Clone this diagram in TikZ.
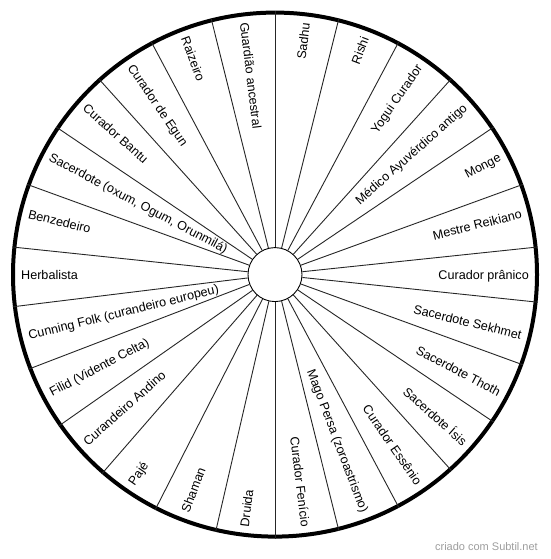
\documentclass[tikz,border=0pt]{standalone}
\usepackage{fontspec}
\setmainfont{Liberation Sans}
\begin{document}
\begin{tikzpicture}[x=1pt,y=1pt,
  spoke/.style={line width=0.9pt, draw=black!85},
  lbl/.style={font=\fontsize{12.6}{15}\selectfont, inner sep=0pt, text height=9pt, text depth=0pt},
  wmark/.style={font=\fontsize{11}{13}\selectfont, text=black!38, inner sep=0pt}
]
\useasboundingbox (0,0) rectangle (550,559);
\fill[white] (0,0) rectangle (550,559);
\coordinate (c) at (275,284.4);
\node[circle, draw, line width=4pt, minimum size=524pt, inner sep=0pt] (rim) at (c) {};
\node[circle, draw, line width=0.9pt, fill=white, minimum size=54pt, inner sep=0pt] (hub) at (c) {};
\foreach \i in {0,...,25} {
  \pgfmathsetmacro\a{90-\i*360/26}
  \draw[spoke] (hub.\a) -- (rim.\a);
}
\foreach \t [count=\i from 0] in {Sadhu, Rishi, Yogui Curador, Médico Ayuvérdico antigo, Monge, Mestre Reikiano, Curador prânico, Sacerdote Sekhmet, Sacerdote Thoth, Sacerdote Ísis, Curador Essênio, Mago Persa (zoroastrismo), Curador Fenício, Druida, Shaman, Pajé, Curandeiro Andino, Filid (Vidente Celta), Cunning Folk (curandeiro europeu), Herbalista, Benzedeiro, {Sacerdote (oxum, Ogum, Orunmilá)}, Curador Bantu, Curador de Egun, Raizeiro, Guardião ancestral} {
  \pgfmathsetmacro\a{90-(\i+0.5)*360/26}
  \ifnum\i<13
    \node[lbl, anchor=east, rotate=\a] (l\i) at ([shift={(\a:254)}]c) {\t};
  \else
    \pgfmathsetmacro\b{\a+180}
    \node[lbl, anchor=west, rotate=\b] (l\i) at ([shift={(\a:254)}]c) {\t};
  \fi
}
\node[wmark, anchor=east] (wm) at (538,12.3) {criado com Subtil.net};
\end{tikzpicture}
\end{document}
